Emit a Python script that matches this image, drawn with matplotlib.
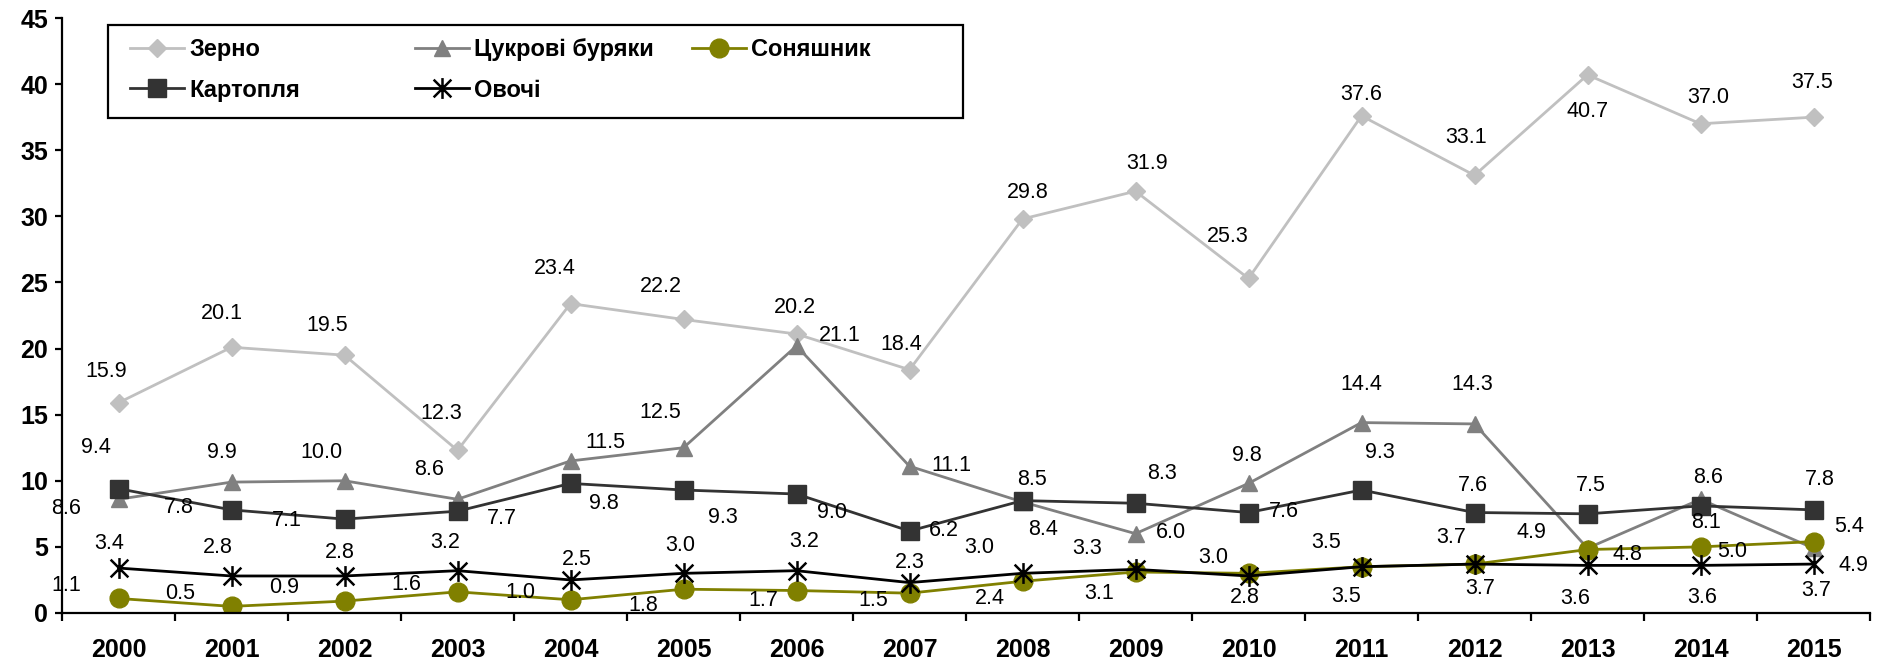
import matplotlib
matplotlib.use("Agg")
from matplotlib import pyplot as plt
from matplotlib.path import Path
from matplotlib.patches import Rectangle
import numpy as np

plt.rcParams['font.family'] = ['Liberation Sans', 'DejaVu Sans']

# data
years = ['2000', '2001', '2002', '2003', '2004', '2005', '2006', '2007',
         '2008', '2009', '2010', '2011', '2012', '2013', '2014', '2015']
zerno = [15.9, 20.1, 19.5, 12.3, 23.4, 22.2, 21.1, 18.4, 29.8, 31.9, 25.3, 37.6, 33.1, 40.7, 37.0, 37.5]
buryaky = [8.6, 9.9, 10.0, 8.6, 11.5, 12.5, 20.2, 11.1, 8.4, 6.0, 9.8, 14.4, 14.3, 4.9, 8.6, 4.9]
sonyashnyk = [1.1, 0.5, 0.9, 1.6, 1.0, 1.8, 1.7, 1.5, 2.4, 3.1, 3.0, 3.5, 3.7, 4.8, 5.0, 5.4]
kartoplya = [9.4, 7.8, 7.1, 7.7, 9.8, 9.3, 9.0, 6.2, 8.5, 8.3, 7.6, 9.3, 7.6, 7.5, 8.1, 7.8]
ovochi = [3.4, 2.8, 2.8, 3.2, 2.5, 3.0, 3.2, 2.3, 3.0, 3.3, 2.8, 3.5, 3.7, 3.6, 3.6, 3.7]

# label offsets in pixels (dx, dy up), placed by hand like in the source chart
off_zerno = [(-12, 31), (-10, 34), (-17, 30), (-16, 37), (-16, 35), (-23, 33), (43, -1), (-8, 25),
             (5, 26), (12, 28), (-21, 42), (0, 21), (-8, 38), (0, -37), (8, 26), (-1, 35)]
off_buryaky = [(-52, -9), (-10, 30), (-23, 28), (-28, 30), (35, 18), (-23, 35), (-2, 38), (42, 1),
               (21, -28), (35, 1), (-2, 28), (0, 38), (-2, 39), (-56, 16), (8, 22), (40, -17)]
off_sonyashnyk = [(-52, 13), (-51, 13), (-60, 14), (-51, 7), (-50, 7), (-40, -16), (-33, -10), (-36, -7),
                  (-33, -17), (-36, -21), (-35, 16), (-35, 24), (-23, 27), (40, -5), (32, -5), (36, 15)]
off_kartoplya = [(-23, 41), (-53, 2), (-58, -1), (44, -7), (33, -20), (39, -27), (35, -19), (34, 1),
                 (9, 21), (26, 30), (35, 1), (18, 38), (-2, 27), (3, 28), (6, -17), (6, 30)]
off_ovochi = [(-9, 25), (-14, 28), (-5, 23), (-12, 28), (6, 20), (-3, 28), (8, 29), (0, 20),
              (-43, 26), (-48, 21), (-4, -22), (-15, -30), (6, -24), (-12, -33), (2, -32), (3, -26)]

# excel-like star marker: vertical stroke + X
star = Path([(0, -1), (0, 1), (-0.85, -0.85), (0.85, 0.85), (-0.85, 0.85), (0.85, -0.85)],
            [Path.MOVETO, Path.LINETO, Path.MOVETO, Path.LINETO, Path.MOVETO, Path.LINETO])

fig = plt.figure(figsize=(18.88, 6.61), dpi=100)
ax = fig.add_axes([62 / 1888, 1 - 613 / 661, (1870 - 62) / 1888, (613 - 18) / 661])

x = np.arange(len(years))

series = [
    ('Зерно', zerno, off_zerno, dict(color='#c0c0c0', marker='D', ms=9.5)),
    ('Цукрові буряки', buryaky, off_buryaky, dict(color='#808080', marker='^', ms=12)),
    ('Соняшник', sonyashnyk, off_sonyashnyk, dict(color='#808000', marker='o', ms=13.5)),
    ('Картопля', kartoplya, off_kartoplya, dict(color='#333333', marker='s', ms=13)),
    ('Овочі', ovochi, off_ovochi, dict(color='black', marker=star, ms=15, mew=1.8)),
]

handles = {}
for name, vals, offs, st in series:
    line, = ax.plot(x, vals, lw=2, label=name, zorder=3, **st)
    handles[name] = line
    for xi, v, (dx, dy) in zip(x, vals, offs):
        ax.annotate('{:.1f}'.format(v), (xi, v), xytext=(dx, dy), textcoords='offset pixels',
                    ha='center', va='center', fontsize=15.5, zorder=5)

ax.set_xlim(-0.5, len(years) - 0.5)
ax.set_ylim(0, 45)
ax.set_yticks(range(0, 50, 5))
ax.set_xticks(x)
ax.set_xticklabels(years, fontweight='bold', fontsize=18)
ax.set_xticks(np.arange(-0.5, len(years), 1), minor=True)
ax.tick_params(axis='x', which='major', length=0, pad=18)
ax.tick_params(axis='x', which='minor', length=6, width=1.6, direction='out')
ax.tick_params(axis='y', length=5, width=1.6, direction='out', labelsize=18, pad=5)
for lab in ax.get_yticklabels():
    lab.set_fontweight('bold')
ax.spines['top'].set_visible(False)
ax.spines['right'].set_visible(False)
ax.spines['left'].set_linewidth(1.6)
ax.spines['bottom'].set_linewidth(1.6)
ax.spines['bottom'].set_zorder(6)

# legend: three columns placed like in excel, plus a frame
cols = [(['Зерно', 'Картопля'], 130), (['Цукрові буряки', 'Овочі'], 415), (['Соняшник'], 692)]
for names, px in cols:
    leg = fig.legend([handles[n] for n in names], names, loc='upper left',
                     bbox_to_anchor=(px / 1888, 1 - 38 / 661), frameon=False,
                     prop={'weight': 'bold', 'size': 17}, handlelength=2.3, handletextpad=0.2,
                     labelspacing=0.75, borderpad=0, borderaxespad=0)
fig.patches.append(Rectangle((108 / 1888, 1 - 118 / 661), (963 - 108) / 1888, (118 - 25) / 661,
                             transform=fig.transFigure, fill=False, ec='black', lw=1.6))

plt.savefig('out.png', dpi=100)
